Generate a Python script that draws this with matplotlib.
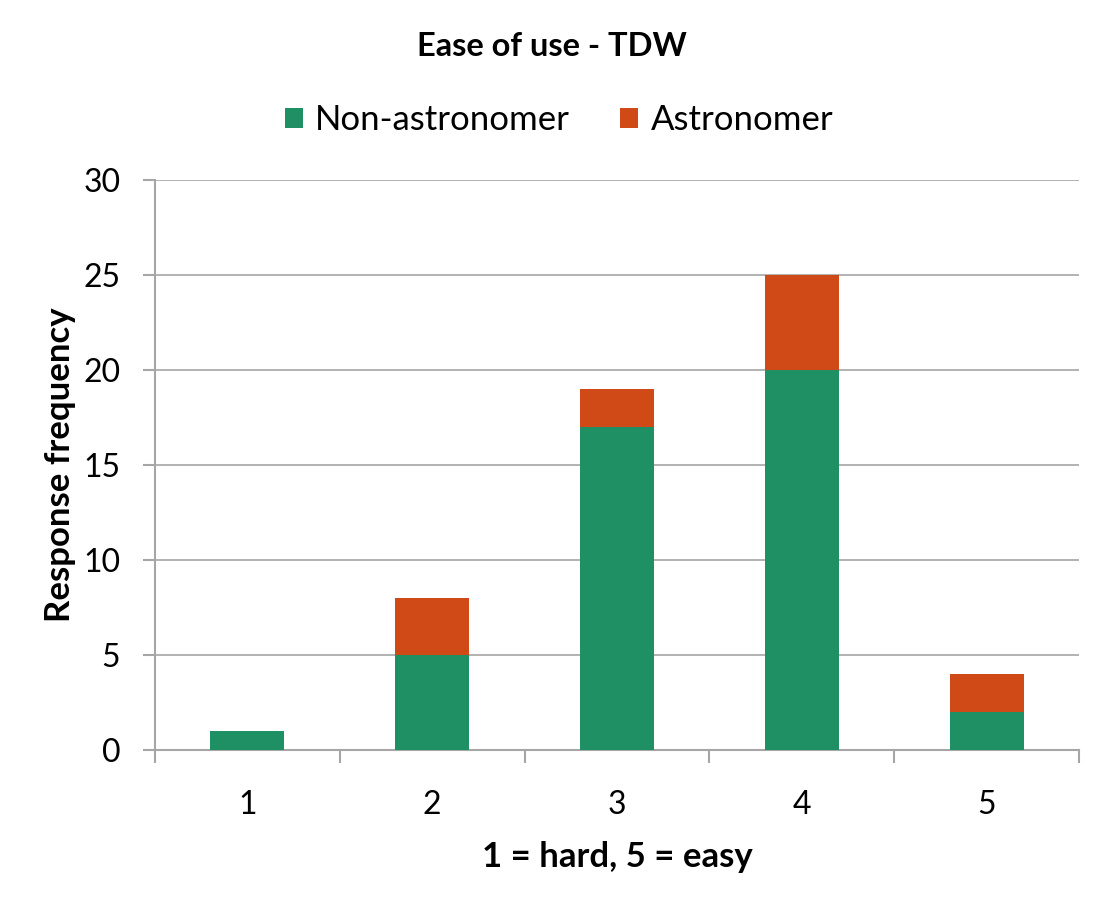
import matplotlib
matplotlib.use("Agg")
import matplotlib.pyplot as plt
import numpy as np

categories = [1, 2, 3, 4, 5]
non_astronomer = [1, 5, 17, 20, 2]
astronomer = [0, 3, 2, 5, 2]
series_names = ["Non-astronomer", "Astronomer"]
yticks = [0, 5, 10, 15, 20, 25, 30]

green = "#1E9063"
orange = "#D04A18"
gridc = "#A6A6A6"

plt.rcParams['font.family'] = ['Lato', 'DejaVu Sans']

fig = plt.figure(figsize=(11.07, 9.02), dpi=100)
ax = fig.add_axes([155/1107, 1 - 750/902, (1079-155)/1107, (750-180)/902])

x = np.array(categories)
ax.bar(x, non_astronomer, width=0.4, color=green, label=series_names[0], zorder=3)
ax.bar(x, astronomer, width=0.4, bottom=non_astronomer, color=orange, label=series_names[1], zorder=3)

ax.set_xlim(0.5, 5.5)
ax.set_ylim(0, 30)
ax.set_yticks(yticks)
ax.set_yticklabels([str(v) for v in yticks], fontsize=23)
ax.set_xticks(categories)
ax.set_xticklabels([str(c) for c in categories], fontsize=23)
ax.set_xticks(np.arange(0.5, 6.0, 1.0), minor=True)
ax.tick_params(axis='x', which='major', length=0, pad=29)
ax.tick_params(axis='x', which='minor', length=9, width=1.5, color=gridc, direction='out')
ax.tick_params(axis='y', length=9, width=1.5, color=gridc, direction='out', pad=16)

ax.yaxis.grid(True, color=gridc, linewidth=1.2, zorder=0)
ax.set_axisbelow(True)
for s in ['top', 'right']:
    ax.spines[s].set_visible(False)
for s in ['left', 'bottom']:
    ax.spines[s].set_color(gridc)
    ax.spines[s].set_linewidth(1.5)

ax.set_xlabel("1 = hard, 5 = easy", fontsize=25, fontweight='bold', labelpad=15)
ax.set_ylabel("Response frequency", fontsize=25, fontweight='bold', labelpad=5)

fig.text(552/1107, 1 - 47/902, "Ease of use - TDW", ha='center', va='center', fontsize=23.5, fontweight='bold')

leg = fig.legend(loc='center', bbox_to_anchor=(559/1107, 1 - 120/902), ncol=2, frameon=False,
                 fontsize=25, handlelength=0.52, handleheight=0.52, handletextpad=0.35, columnspacing=1.45)

fig.savefig("out.png", dpi=100)
